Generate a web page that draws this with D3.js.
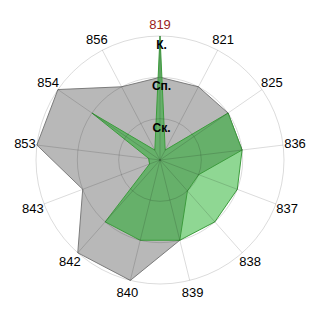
<!DOCTYPE html>
<html lang="en">
    <head>
	<meta charset="utf-8">
	<title>Radar</title>
	<script src="https://d3js.org/d3.v7.min.js" charset="utf-8"></script>
	<style>
	 body {
	     margin: 0;
	     background: #fff;
	 }
	 text {
	     font-family: "Liberation Sans", Arial, sans-serif;
	 }
	</style>
    </head>
    <body>
	<script type="text/javascript">

	 //Data
	 var axes = ["819", "821", "825", "836", "837", "838", "839", "840", "842", "843", "853", "854", "856"];
	 var levels = ["Ск.", "Сп.", "К."];
	 var grayVals = [2, 2, 2, 2, 1, 1, 2, 3, 3, 2, 3, 3, 2];
	 var lightVals = [0.27, 0.27, 0.27, 2, 2, 2, 2, 0.27, 0.27, 0.27, 0.27, 0.27, 0.27];
	 var darkVals = [3, 0.27, 2, 2, 1, 1, 2, 2, 2, 0.27, 0.27, 2, 0.27];

	 //Display specifications
	 var width = 320, height = 320;
	 var cx = 160, cy = 160;
	 var radius = 124;

	 var rScale = d3.scaleLinear()
			.domain([0, levels.length])
			.range([0, radius]);

	 var aScale = d3.scaleLinear()
			.domain([0, axes.length])
			.range([0, 2 * Math.PI]);

	 var svg = d3.select("body")
		     .append("svg")
		     .attr("width", width)
		     .attr("height", height);

	 var container = svg.append("g")
			    .attr("transform", "translate(" + cx + "," + cy + ")");

	 var radial = d3.lineRadial()
			.angle(function (d, i) { return aScale(i); })
			.radius(function (d) { return rScale(d); })
			.curve(d3.curveLinearClosed);

	 //Series, back to front
	 var series = [
	     {vals: grayVals, fill: "#b8b8b8", stroke: "#7c7c7c"},
	     {vals: lightVals, fill: "#8fd793", stroke: "#3d9c3d"},
	     {vals: darkVals, fill: "#66b06a", stroke: "#3d9c3d"}
	 ];

	 container.selectAll(".area")
		  .data(series)
		  .enter()
		  .append("path")
		  .attr("class", "area")
		  .attr("d", function (d) { return radial(d.vals); })
		  .style("fill", function (d) { return d.fill; })
		  .style("stroke", function (d) { return d.stroke; })
		  .style("stroke-width", 1);

	 //Grid on top, see-through
	 container.selectAll(".ring")
		  .data(levels)
		  .enter()
		  .append("circle")
		  .attr("class", "ring")
		  .attr("r", function (d, i) { return rScale(i + 1); })
		  .style("fill", "none")
		  .style("stroke", "rgba(0,0,0,0.14)")
		  .style("stroke-width", 1);

	 container.selectAll(".spoke")
		  .data(axes)
		  .enter()
		  .append("line")
		  .attr("class", "spoke")
		  .attr("x1", 0)
		  .attr("y1", 0)
		  .attr("x2", function (d, i) { return radius * Math.sin(aScale(i)); })
		  .attr("y2", function (d, i) { return -radius * Math.cos(aScale(i)); })
		  .style("stroke", "rgba(0,0,0,0.14)")
		  .style("stroke-width", 1);

	 //Axis labels
	 container.selectAll(".axlabel")
		  .data(axes)
		  .enter()
		  .append("text")
		  .attr("class", "axlabel")
		  .attr("x", function (d, i) { return (radius + 12) * Math.sin(aScale(i)); })
		  .attr("y", function (d, i) { return -(radius + 12) * Math.cos(aScale(i)); })
		  .attr("text-anchor", "middle")
		  .attr("dominant-baseline", "central")
		  .attr("font-size", "13px")
		  .style("fill", function (d, i) { return i == 0 ? "#9b1c1c" : "#000"; })
		  .text(function (d) { return d; });

	 //Level labels
	 container.selectAll(".lvlabel")
		  .data(levels)
		  .enter()
		  .append("text")
		  .attr("class", "lvlabel")
		  .attr("x", 1.5)
		  .attr("y", function (d, i) { return -rScale(i + 1) + 9; })
		  .attr("text-anchor", "middle")
		  .attr("dominant-baseline", "central")
		  .attr("font-size", "12px")
		  .attr("font-weight", "bold")
		  .style("fill", "#000")
		  .text(function (d) { return d; });

	</script>
    </body>
</html>
